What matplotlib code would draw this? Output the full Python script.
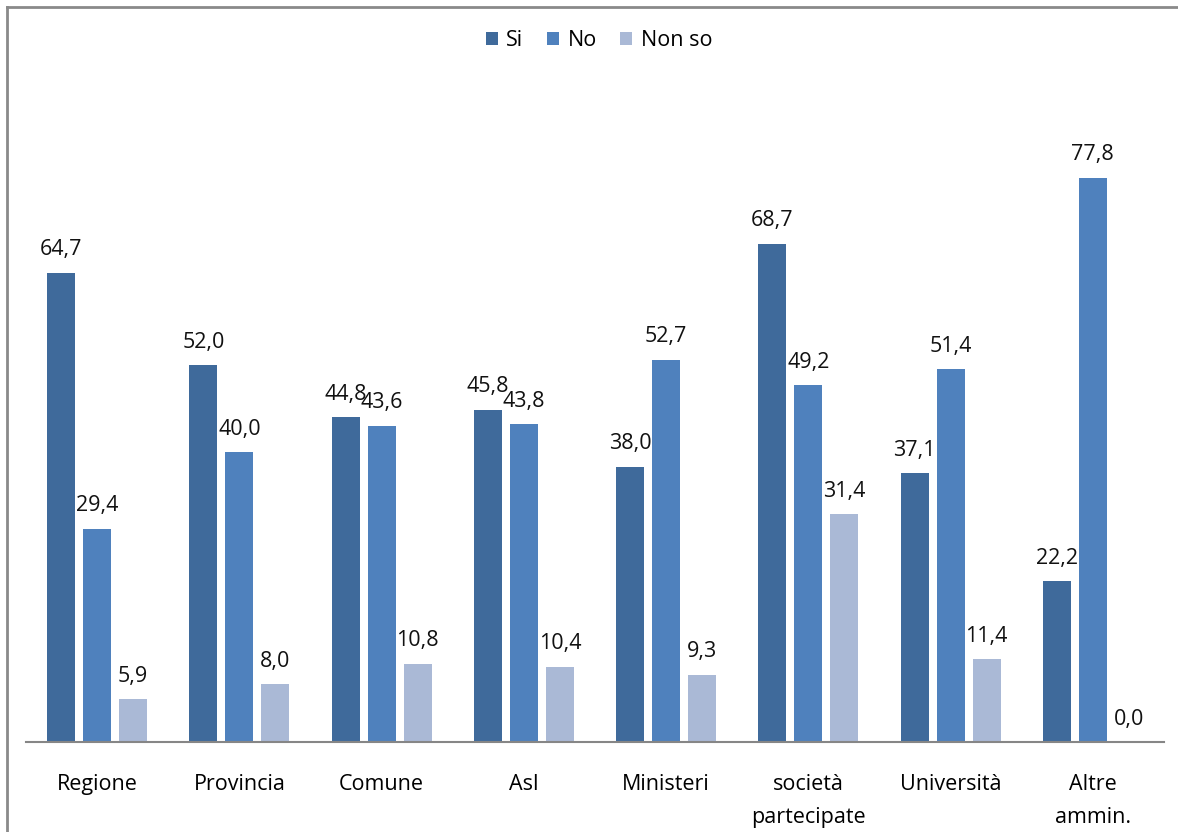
import matplotlib
matplotlib.use("Agg")
import matplotlib.pyplot as plt
import numpy as np
from matplotlib.lines import Line2D

categories = ["Regione", "Provincia", "Comune", "Asl", "Ministeri",
              "società\npartecipate", "Università", "Altre\nammin."]
si = [64.7, 52.0, 44.8, 45.8, 38.0, 68.7, 37.1, 22.2]
no = [29.4, 40.0, 43.6, 43.8, 52.7, 49.2, 51.4, 77.8]
non_so = [5.9, 8.0, 10.8, 10.4, 9.3, 31.4, 11.4, 0.0]
series_names = ["Si", "No", "Non so"]
colors = ["#3F6A9B", "#4F81BD", "#AAB9D6"]

plt.rcParams["font.family"] = ["Open Sans", "DejaVu Sans"]

W, H = 1178, 832
fig = plt.figure(figsize=(W / 100, H / 100), dpi=100)
ax = fig.add_axes([26 / W, 1 - 742 / H, 1138 / W, (742 - 89.5) / H])

x = np.arange(len(categories))
bw = 0.197
step = 0.253
fs = 15.5
for i, (vals, name, c) in enumerate(zip([si, no, non_so], series_names, colors)):
    pos = x + (i - 1) * step
    ax.bar(pos, vals, width=bw, color=c, label=name)
    for p, v in zip(pos, vals):
        ax.annotate(f"{v:.1f}".replace(".", ","), (p, v), xytext=(0, 9),
                    textcoords="offset points", ha="center", va="bottom",
                    fontsize=fs, color="#111111")

ax.set_xlim(-0.5, len(categories) - 0.5)
ax.set_ylim(0, 90)
ax.set_yticks([])
ax.set_xticks(x)
ax.set_xticklabels(categories, fontsize=fs, linespacing=1.75)
ax.tick_params(axis="x", length=0, pad=23)
for s in ["top", "right", "left"]:
    ax.spines[s].set_visible(False)
ax.spines["bottom"].set_color("#868686")
ax.spines["bottom"].set_linewidth(1.5)

leg = fig.legend(loc="center", bbox_to_anchor=(599 / W, 1 - 41 / H), ncol=3,
                 frameon=False, fontsize=fs, handlelength=0.55, handleheight=0.55,
                 handletextpad=0.4, columnspacing=1.1)

# outer chart frame (top and left edges)
fig.add_artist(Line2D([7 / W, 1], [1 - 7 / H, 1 - 7 / H], color="#8a8a8a", lw=2,
                      transform=fig.transFigure))
fig.add_artist(Line2D([7 / W, 7 / W], [0, 1 - 7 / H], color="#8a8a8a", lw=2,
                      transform=fig.transFigure))

fig.savefig("out.png", dpi=100, facecolor="white")
